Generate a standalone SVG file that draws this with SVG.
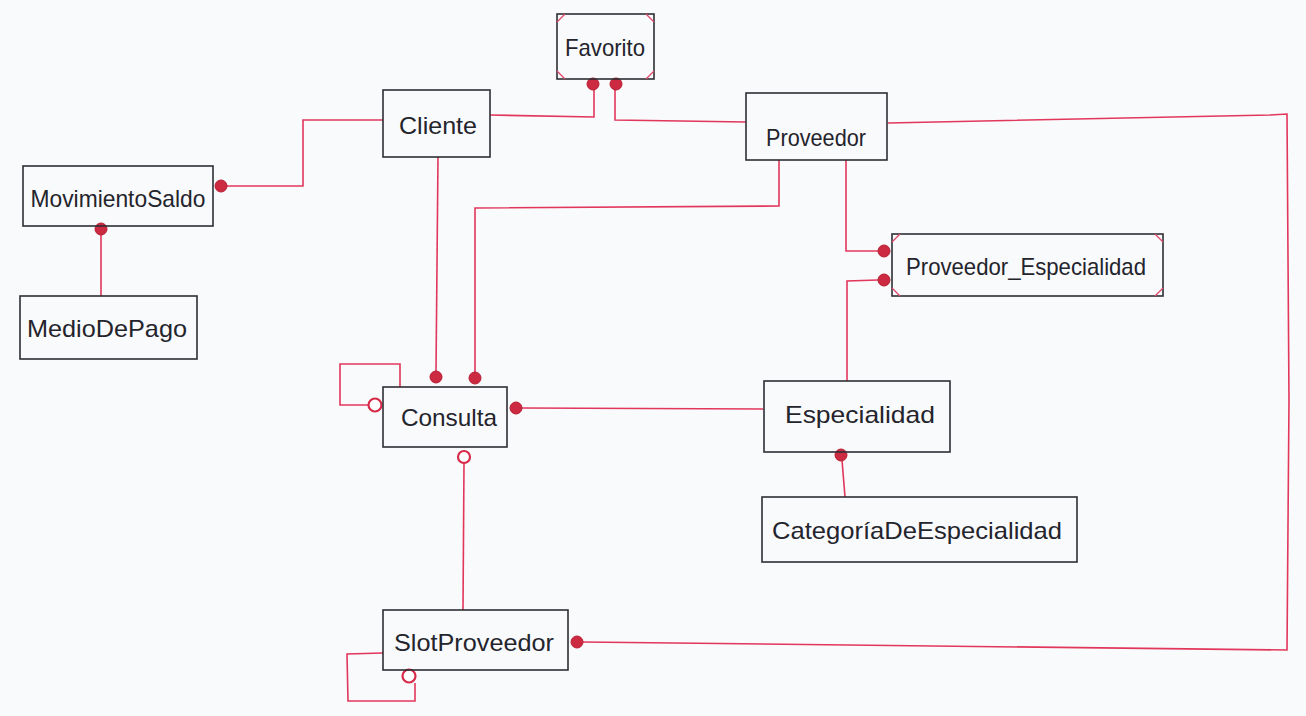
<svg xmlns="http://www.w3.org/2000/svg" width="1306" height="716" viewBox="0 0 1306 716">
<style>
.bg{fill:#f9fafc}
.box{fill:none;stroke:#2e2e35;stroke-width:1.6}
.lbl{font-family:"Liberation Sans",Arial,sans-serif;font-size:24px;fill:#24242c;text-anchor:middle}
.c{fill:none;stroke:#e2375c;stroke-width:1.6}
.dot{fill:#cc2a40;stroke:#b81e35;stroke-width:1}
.ring{fill:#ffffff;stroke:#d62a48;stroke-width:2.2}
.corner{stroke:#e2486a;stroke-width:1.3}
</style>
<rect class="bg" x="0" y="0" width="1306" height="716"/>
<g id="connectors">
  <polyline class="c" points="383,120 303,120 303,186 226,186"/>
  <polyline class="c" points="101,234 101,296"/>
  <polyline class="c" points="490,115 594,117 594,89"/>
  <polyline class="c" points="615,89 615,120 746,122"/>
  <polyline class="c" points="438,157 436,373"/>
  <polyline class="c" points="779,160 779,206 475,208 475,373"/>
  <polyline class="c" points="846,160 846,251 878,251"/>
  <polyline class="c" points="847,381 847,281 878,280"/>
  <polyline class="c" points="522,408 764,409"/>
  <polyline class="c" points="400,387 400,364 340,364 340,405 368,405"/>
  <polyline class="c" points="464,463 463,610"/>
  <polyline class="c" points="842,460 845,497"/>
  <polyline class="c" points="888,123 1270,115 1287,114 1289,400 1287,650 583,642"/>
  <polyline class="c" points="383,653 347,654 348,701 415,701 415,683"/>
  <circle class="dot" cx="221" cy="186" r="6"/>
  <circle class="dot" cx="101" cy="229" r="6"/>
  <circle class="dot" cx="593" cy="84" r="6"/>
  <circle class="dot" cx="616" cy="84" r="6"/>
  <circle class="dot" cx="436" cy="377" r="6"/>
  <circle class="dot" cx="475" cy="378" r="6"/>
  <circle class="dot" cx="884" cy="251" r="6"/>
  <circle class="dot" cx="884" cy="280" r="6"/>
  <circle class="dot" cx="516" cy="408" r="6"/>
  <circle class="dot" cx="841" cy="455" r="6"/>
  <circle class="dot" cx="577" cy="642" r="6"/>
  <circle class="ring" cx="375" cy="405" r="6.5"/>
  <circle class="ring" cx="464" cy="457" r="6"/>
  <circle class="ring" cx="409" cy="676" r="6.5"/>
</g>
<g id="Favorito">
  <rect class="box" x="557" y="14" width="97" height="65"/>
  <line class="corner" x1="557" y1="22" x2="565" y2="14"/>
  <line class="corner" x1="646" y1="14" x2="654" y2="22"/>
  <line class="corner" x1="557" y1="71" x2="565" y2="79"/>
  <line class="corner" x1="646" y1="79" x2="654" y2="71"/>
  <text class="lbl" x="605" y="56" textLength="80" lengthAdjust="spacingAndGlyphs">Favorito</text>
</g>
<g id="Cliente">
  <rect class="box" x="383" y="90" width="107" height="67"/>
  <text class="lbl" x="438" y="134" textLength="78" lengthAdjust="spacingAndGlyphs">Cliente</text>
</g>
<g id="Proveedor">
  <rect class="box" x="746" y="93" width="141" height="67"/>
  <text class="lbl" x="816" y="146" textLength="100" lengthAdjust="spacingAndGlyphs">Proveedor</text>
</g>
<g id="MovimientoSaldo">
  <rect class="box" x="23" y="166" width="190" height="60"/>
  <text class="lbl" x="118" y="207" textLength="175" lengthAdjust="spacingAndGlyphs">MovimientoSaldo</text>
</g>
<g id="MedioDePago">
  <rect class="box" x="20" y="296" width="177" height="63"/>
  <text class="lbl" x="107" y="337" textLength="160" lengthAdjust="spacingAndGlyphs">MedioDePago</text>
</g>
<g id="Proveedor_Especialidad">
  <rect class="box" x="892" y="234" width="271" height="62"/>
  <line class="corner" x1="892" y1="242" x2="900" y2="234"/>
  <line class="corner" x1="1155" y1="234" x2="1163" y2="242"/>
  <line class="corner" x1="892" y1="288" x2="900" y2="296"/>
  <line class="corner" x1="1155" y1="296" x2="1163" y2="288"/>
  <text class="lbl" x="1026" y="275" textLength="240" lengthAdjust="spacingAndGlyphs">Proveedor_Especialidad</text>
</g>
<g id="Consulta">
  <rect class="box" x="383" y="387" width="124" height="60"/>
  <text class="lbl" x="449" y="426" textLength="96" lengthAdjust="spacingAndGlyphs">Consulta</text>
</g>
<g id="Especialidad">
  <rect class="box" x="764" y="381" width="186" height="71"/>
  <text class="lbl" x="860" y="423" textLength="150" lengthAdjust="spacingAndGlyphs">Especialidad</text>
</g>
<g id="CategoriaDeEspecialidad">
  <rect class="box" x="762" y="497" width="315" height="65"/>
  <text class="lbl" x="917" y="539" textLength="290" lengthAdjust="spacingAndGlyphs">CategoríaDeEspecialidad</text>
</g>
<g id="SlotProveedor">
  <rect class="box" x="383" y="610" width="185" height="60"/>
  <text class="lbl" x="474" y="651" textLength="160" lengthAdjust="spacingAndGlyphs">SlotProveedor</text>
</g>
</svg>
